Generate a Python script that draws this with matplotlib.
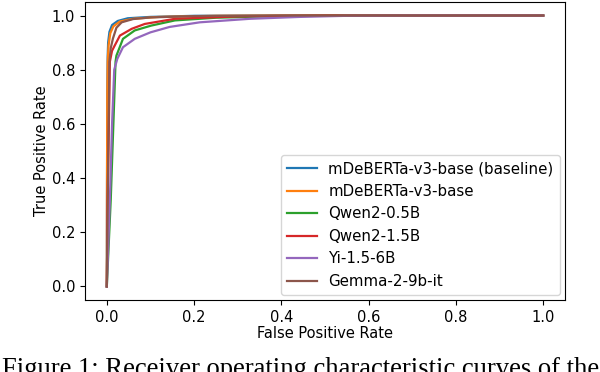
import matplotlib
matplotlib.use("Agg")
import matplotlib.pyplot as plt

models = ["mDeBERTa-v3-base (baseline)", "mDeBERTa-v3-base", "Qwen2-0.5B",
          "Qwen2-1.5B", "Yi-1.5-6B", "Gemma-2-9b-it"]

fpr_baseline = [0, 0.0005, 0.001, 0.002, 0.003, 0.006, 0.012, 0.025, 0.048, 0.1, 0.2, 0.4, 1.0]
tpr_baseline = [0, 0.40, 0.70, 0.85, 0.90, 0.94, 0.965, 0.98, 0.99, 0.995, 0.999, 1.0, 1.0]

fpr_mdeberta = [0, 0.0005, 0.001, 0.002, 0.004, 0.008, 0.015, 0.03, 0.06, 0.12, 0.25, 0.4, 1.0]
tpr_mdeberta = [0, 0.40, 0.70, 0.83, 0.89, 0.935, 0.96, 0.978, 0.988, 0.995, 0.999, 1.0, 1.0]

fpr_qwen05 = [0, 0.009, 0.020, 0.022, 0.037, 0.064, 0.102, 0.156, 0.25, 0.4, 0.6, 1.0]
tpr_qwen05 = [0, 0.32, 0.83, 0.852, 0.914, 0.945, 0.963, 0.982, 0.992, 0.998, 1.0, 1.0]

fpr_qwen15 = [0, 0.002, 0.007, 0.012, 0.018, 0.030, 0.057, 0.087, 0.156, 0.3, 0.5, 1.0]
tpr_qwen15 = [0, 0.32, 0.83, 0.87, 0.889, 0.926, 0.951, 0.969, 0.988, 0.997, 1.0, 1.0]

fpr_yi = [0, 0.007, 0.012, 0.017, 0.024, 0.037, 0.064, 0.10, 0.144, 0.213, 0.328, 0.443, 0.55, 0.7, 1.0]
tpr_yi = [0, 0.32, 0.60, 0.80, 0.84, 0.883, 0.914, 0.938, 0.958, 0.975, 0.988, 0.995, 0.999, 1.0, 1.0]

fpr_gemma = [0, 0.002, 0.006, 0.009, 0.014, 0.022, 0.034, 0.06, 0.1, 0.2, 0.4, 1.0]
tpr_gemma = [0, 0.32, 0.83, 0.88, 0.915, 0.955, 0.975, 0.987, 0.993, 0.998, 1.0, 1.0]

curves = [(fpr_baseline, tpr_baseline), (fpr_mdeberta, tpr_mdeberta),
          (fpr_qwen05, tpr_qwen05), (fpr_qwen15, tpr_qwen15),
          (fpr_yi, tpr_yi), (fpr_gemma, tpr_gemma)]
colors = ["#1f77b4", "#ff7f0e", "#2ca02c", "#d62728", "#9467bd", "#8c564b"]

fig = plt.figure(figsize=(6, 3.72), dpi=100)
ax = fig.add_axes([85/600, 1-300/372, 480/600, 298/372])
fs = 10.5
for (x, y), c, m in zip(curves, colors, models):
    ax.plot(x, y, color=c, label=m, lw=1.6)
ax.set_xlim(-0.05, 1.05)
ax.set_ylim(-0.05, 1.05)
ax.set_xticks([0, 0.2, 0.4, 0.6, 0.8, 1.0])
ax.set_yticks([0, 0.2, 0.4, 0.6, 0.8, 1.0])
ax.tick_params(labelsize=fs)
ax.set_xlabel("False Positive Rate", fontsize=fs, labelpad=1)
ax.set_ylabel("True Positive Rate", fontsize=fs, labelpad=2)
ax.legend(loc="lower right", fontsize=10.8, borderaxespad=0.35)

fig.text(2/600, 1-357/372, "Figure 1: Receiver operating characteristic curves of the",
         family="Liberation Serif", fontsize=19.2, va="top", ha="left")
fig.savefig("out.png", dpi=100)
